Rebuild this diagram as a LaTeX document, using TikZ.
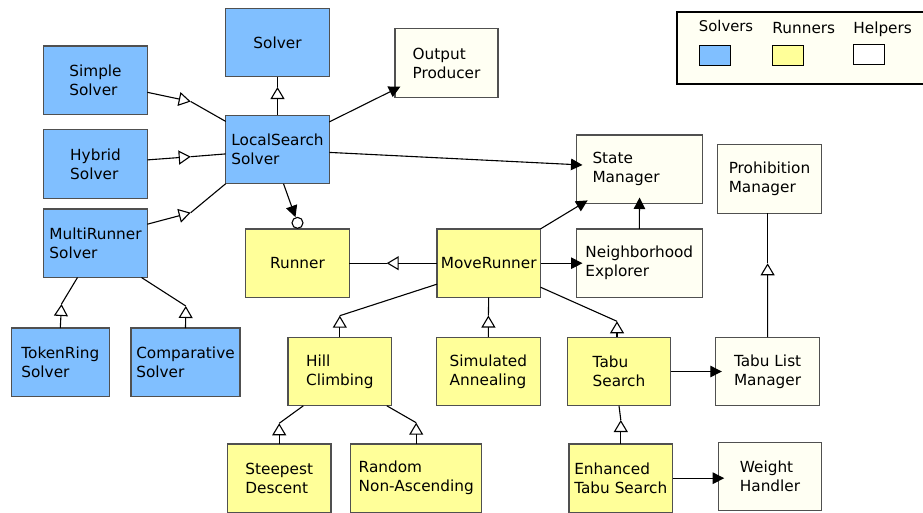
\documentclass[tikz,border=0pt]{standalone}
\usepackage{fontspec}
\setmainfont{DejaVu Sans}
\usetikzlibrary{positioning,arrows.meta}
\usepackage{xcolor}
\definecolor{solverblue}{RGB}{128,191,255}
\definecolor{runneryellow}{RGB}{255,255,153}
\definecolor{helpercream}{RGB}{255,255,243}
\definecolor{boxgray}{RGB}{80,80,80}

\begin{document}
\begin{tikzpicture}[x=1pt,y=-1pt,
    font=\fontsize{15.3pt}{19pt}\selectfont,
    box/.style={draw=boxgray,line width=1.2pt,minimum width=103.6pt,minimum height=68.6pt,inner sep=2pt,outer sep=0pt,align=left},
    solverbox/.style={box,fill=solverblue},
    runnerbox/.style={box,fill=runneryellow},
    helperbox/.style={box,fill=helpercream},
    keybox/.style={draw,line width=1.1pt,minimum width=31pt,minimum height=20pt,inner sep=0pt},
    conn/.style={draw,line width=1.1pt},
    isa/.style={conn,-{Triangle[open,length=12pt,width=14pt]}},
    arr/.style={conn,-{Triangle[length=11.5pt,width=11.5pt]}},
    uses/.style={arr,shorten >=-6pt}]
    \useasboundingbox (0,0) rectangle (923,512);
    \clip (0,0) rectangle (923,512);

    % solvers
    \node[solverbox] (solver) at (277.5,42.5) {Solver};
    \node[solverbox,below=38.3pt of solver] (lss) {LocalSearch\\Solver};
    \node[solverbox] (simple) at (95.5,80.3) {Simple\\Solver};
    \node[solverbox,below=15pt of simple] (hybrid) {Hybrid\\Solver};
    \node[solverbox,below=10.7pt of hybrid] (multi) {MultiRunner\\Solver};
    \node[solverbox,minimum width=98pt] (token) at (60.3,362.3) {TokenRing\\Solver};
    \node[solverbox,minimum width=109pt,right=21.7pt of token] (comp) {Comparative\\Solver};

    % helpers
    \node[helperbox,minimum width=103pt] (output) at (446.5,63) {Output\\Producer};
    \node[helperbox,text width=94pt,inner xsep=16pt] (state) at (639.5,169.2) {State\\Manager};
    \node[helperbox] (prohib) at (769.5,178.8) {Prohibition\\Manager};

    % runners
    \node[runnerbox] (runner) at (297.5,263.2) {Runner};
    \node[runnerbox] (move) at (488.7,263.2) {MoveRunner};
    \node[helperbox,minimum width=125.6pt,right=36pt of move] (neigh) {Neighborhood\\Explorer};
    \node[runnerbox] (hill) at (339.8,371.5) {Hill\\Climbing};
    \node[runnerbox,right=45pt of hill] (anneal) {Simulated\\Annealing};
    \node[runnerbox,right=27pt of anneal] (tabu) {Tabu\\Search};
    \node[helperbox,right=45pt of tabu] (tabulist) {Tabu List\\Manager};
    \node[runnerbox] (steep) at (279.2,478.2) {Steepest\\Descent};
    \node[runnerbox,minimum width=131pt,right=19.7pt of steep] (random) {Random\\Non-Ascending};
    \node[runnerbox] (enh) at (620.8,478.2) {Enhanced\\Tabu Search};
    \node[helperbox] (weight) at (770,476.5) {Weight\\Handler};
    \node[circle,draw,fill=white,line width=1.1pt,inner sep=0pt,minimum size=11pt,above=0pt of runner] (agg) {};

    % bend points of the generalisations
    \coordinate (g1) at (190.7,101.5);
    \coordinate (g2) at (190.7,156.7);
    \coordinate (g3) at (190.7,212.7);
    \coordinate (g4) at (277.5,87);
    \coordinate (g8) at (386.7,263.2);
    \coordinate (g12) at (339.8,315.7);
    \coordinate (g13) at (488.4,315.5);
    \coordinate (g14) at (617,321.3);
    \coordinate (g16) at (767.6,263.3);
    \coordinate (g17) at (279.2,423.3);
    \coordinate (g18) at (416.2,422.7);
    \coordinate (g19) at (620.8,420);
    \coordinate (g21) at (61.5,304);
    \coordinate (g22) at (185.8,306);

    \draw[isa] ([yshift=-12pt]simple.east) -- (g1);
    \draw[conn] (g1) -- ([yshift=28pt]lss.west);
    \draw[isa] ([yshift=4pt]hybrid.east) -- (g2);
    \draw[conn] (g2) -- ([yshift=-4.5pt]lss.west);
    \draw[isa] ([yshift=19pt]multi.east) -- (g3);
    \draw[conn] (g3) -- (lss.south west);
    \draw[isa] (lss.north) -- (g4);
    \draw[conn] (g4) -- (solver.south);
    \draw[isa] (move.west) -- (g8);
    \draw[conn] (g8) -- (runner.east);
    \draw[isa] (hill.north) -- (g12);
    \draw[conn] (g12) -- ([yshift=-21pt]move.west);
    \draw[isa] (anneal.north) -- (g13);
    \draw[conn] (g13) -- (move.south);
    \draw[isa] ([xshift=-2pt]tabu.north) -- (g14);
    \draw[conn] (g14) -- ([yshift=-24pt]move.east);
    \draw[isa] (tabulist.north) -- (g16);
    \draw[conn] (g16) -- (g16 |- prohib.south);
    \draw[isa] (steep.north) -- (g17);
    \draw[conn] (g17) -- ([xshift=-36.5pt]hill.south);
    \draw[isa] (random.north) -- (g18);
    \draw[conn] (g18) -- ([xshift=47pt]hill.south);
    \draw[isa] (enh.north) -- (g19);
    \draw[conn] (g19) -- (tabu.south);
    \draw[isa] (token.north) -- (g21);
    \draw[conn] (g21) -- ([xshift=-18pt]multi.south);
    \draw[isa] (comp.north) -- (g22);
    \draw[conn] (g22) -- ([xshift=46pt]multi.south);

    \draw[uses] ([yshift=27.5pt]lss.east) -- ([yshift=8pt]output.south west);
    \draw[uses] ([yshift=-3pt]lss.east) -- ([yshift=4.5pt]state.west);
    \draw[arr] ([xshift=6pt]lss.south) -- (agg);
    \draw[uses] (move.north east) -- ([xshift=6pt]state.south west);
    \draw[uses] (neigh.north) -- (state.south);
    \draw[uses] (move.east) -- (neigh.west);
    \draw[uses] (tabu.east) -- (tabulist.west);
    \draw[uses] (enh.east) -- (enh.east -| weight.west);

    % legend
    \draw[line width=2pt,fill=helpercream] (676.5,12) rectangle (935,84);
    \node[keybox,fill=solverblue] (keysolver) at (714.8,55.5) {};
    \node[keybox,fill=runneryellow] (keyrunner) at (788.3,55.5) {};
    \node[keybox,fill=white] (keyhelper) at (869.2,54.5) {};
    \node[anchor=base west,inner sep=0pt,font=\fontsize{14.8pt}{18pt}\selectfont] (labsolver) at ([yshift=13.5pt]keysolver.north west) {Solvers};
    \node[anchor=base west,inner sep=0pt] (labrunner) at ([yshift=11.5pt]keyrunner.north west) {Runners};
    \node[anchor=base west,inner sep=0pt] (labhelper) at ([yshift=10.5pt]keyhelper.north west) {Helpers};
\end{tikzpicture}
\end{document}
